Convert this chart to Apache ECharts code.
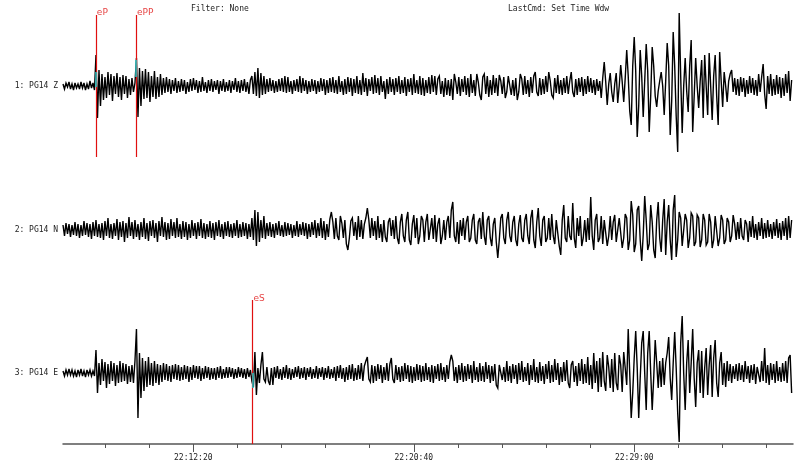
<!DOCTYPE html>
<html><head><meta charset="utf-8">
<script src="https://cdn.jsdelivr.net/npm/echarts@6/dist/echarts.min.js"></script>
<style>html,body{margin:0;padding:0;background:#fff}#c{width:800px;height:471px}</style>
</head><body><div id="c"></div>
<script>
// time in seconds after 22:00:00
const startSec = 444.5;
const sampleSec = 3.4;
const traceNames = ['1: PG14 Z', '2: PG14 N', '3: PG14 E'];
const headerTexts = ['Filter: None', 'LastCmd: Set Time Wdw'];
const minorTicks = [540, 640, 840, 940, 1040, 1140, 1340, 1440, 1540, 1640, 1840, 1940, 2040];
const majorTicks = [740, 1240, 1740];
const pickNames = ['eP', 'ePP', 'eS'];
const pickTimes = [519, 610, 874];
const pickTrace = [0, 0, 2];

const traceZ = [
2,-3,3,-1,4,-3,2,-4,3,-2,
2,-3,4,-2,3,-4,2,-3,5,-2,
3,-4,31,-32,16,-20,12,-14,9,-12,
14,-9,12,-15,10,-8,13,-11,9,-14,
11,-8,10,-12,7,-9,8,-6,3,28,
-31,18,-20,15,-13,17,-12,14,-16,10,
-11,15,-13,9,-11,12,-9,8,-7,9,
-6,7,-8,6,-5,8,-7,5,-6,7,
-5,6,-8,4,-6,7,-5,8,-4,6,
-7,5,-6,9,-5,4,-7,6,-5,7,
-6,5,-4,6,-8,5,-5,7,-6,4,
-5,6,-7,5,-4,8,-6,5,-7,6,
-5,7,-6,4,-8,6,10,-8,14,-10,
18,-12,13,-9,10,-8,7,-6,8,-5,
6,-7,5,-6,7,-5,8,-6,10,-7,
9,-6,5,-8,6,-5,7,-6,10,-7,
8,-5,6,-8,5,-6,7,-5,6,-8,
5,-6,8,-5,7,-9,6,-7,8,-6,
9,-7,6,-8,10,-6,5,-9,7,-8,
9,-6,8,-10,7,-7,10,-8,6,-9,
13,-6,8,-10,7,-5,9,-8,11,-7,
8,-9,10,-6,5,-13,7,-8,9,-6,
7,-9,8,-6,10,-8,6,-7,9,-10,
7,-6,8,-9,12,-7,6,-8,10,-9,
8,-10,6,-7,9,-8,11,-6,10,-9,
7,10,-8,5,-11,8,-9,6,-10,7,
-14,12,4,-8,9,-10,7,-6,10,-9,
8,-11,12,-7,6,-10,12,4,-9,-14,
9,12,-8,10,-11,6,-9,11,-7,8,
-10,11,5,-8,9,-12,-6,10,12,-9,
6,-10,8,-14,-6,12,7,-9,10,-8,
6,-11,9,-7,10,14,-6,-10,8,-9,
7,-8,10,-6,14,5,-9,-12,8,-7,
11,-8,6,-9,8,-7,10,-8,5,14,
-6,-11,7,-9,8,-6,9,-10,7,-8,
10,-6,8,-7,6,-9,7,-5,5,-12,
8,24,4,-19,2,13,-6,-16,2,13,
-17,0,21,4,-16,8,36,10,-25,-39,
20,49,15,-51,-20,36,10,-31,5,42,
15,-46,-10,39,20,-10,-21,-5,5,14,
0,-29,5,43,20,-49,-15,54,20,-30,
-66,73,10,-47,0,28,-5,-26,20,46,
-46,-10,28,0,-22,5,26,-32,31,0,
-29,33,0,-34,10,31,-10,-39,34,5,
-21,14,0,-16,5,12,16,-6,8,-9,
7,-10,9,-6,8,-11,6,-8,10,-7,
8,-9,6,-10,12,-6,9,22,-8,-23,
10,-8,12,-10,7,-9,11,-8,9,-12,
8,-10,12,-7,15,-15,6
];

const traceN = [
5,-6,7,-4,6,-7,5,-5,8,-6,
6,-8,5,-6,9,-5,7,-7,6,-9,
8,-6,10,-7,6,-8,7,-10,9,-6,
12,-8,6,-9,7,-6,11,-10,8,-7,
9,-12,7,-8,13,-6,8,-9,10,-7,
6,-10,8,-7,12,-9,7,-11,9,-6,
10,-8,7,-12,9,-6,13,-7,8,-10,
7,-9,11,-6,8,-8,12,-7,6,-9,
9,-7,8,-10,6,-8,10,-6,7,-9,
8,-6,11,-8,7,-9,6,-7,9,-8,
7,-10,8,-6,10,-7,6,-9,8,-6,
9,-7,6,-8,7,-6,10,-8,6,-7,
8,-6,7,-9,6,-7,12,-10,20,-16,
18,-12,10,-8,14,-9,7,-6,8,-7,
6,-8,7,-5,9,-6,5,-7,8,-6,
7,-5,6,-8,5,-6,9,-7,6,-5,
8,-6,7,-9,6,-7,8,-5,10,-8,
7,-6,12,-8,9,-10,6,-7,11,18,
8,-9,12,-6,-10,14,7,-8,10,-14,
-20,-8,9,12,-6,8,-10,14,-7,10,
-9,6,12,22,10,-8,12,-6,9,-10,
14,-8,6,-12,10,-7,-12,8,12,-6,
10,-9,14,-8,-14,8,16,-6,-12,10,
18,-10,-15,6,15,-8,12,-14,-6,14,
10,-12,8,16,-10,-8,12,-9,15,-12,
6,12,-14,-6,10,-10,8,14,-8,20,
28,-6,-12,8,-14,10,-6,12,-10,8,
14,-12,-8,10,16,-10,-14,8,12,-9,
18,-6,-15,10,14,-8,-16,6,12,-12,
-28,-10,12,16,-8,-14,10,18,-6,-12,
8,14,-10,-16,6,15,-8,-12,10,16,
-6,-14,12,20,-10,-18,8,22,-6,-16,
10,14,-12,-8,12,-10,16,-6,-14,10,
12,-16,-25,10,25,-8,-12,14,-6,-10,
27,-8,-18,12,-6,14,-16,-8,10,-12,
12,-10,33,-6,-20,10,16,-12,-8,14,
-14,10,12,-16,-6,14,-10,8,15,-12,
-14,12,10,-18,-8,16,12,-20,-10,29,
15,-22,-14,20,24,-10,-31,-5,34,10,
-20,-14,25,8,-20,-28,10,28,-8,-22,
10,31,-25,8,25,-10,-30,20,35,-27,
-10,18,12,-16,-14,16,10,-18,-8,17,
14,-16,-12,15,12,-17,-10,16,10,-15,
-12,16,8,-18,-10,14,12,-16,-8,15,
10,-14,-10,12,8,-12,-6,15,6,-10,
8,-9,12,-6,-10,10,6,-12,9,-7,
14,-8,6,-10,8,-6,12,-9,7,-8,
10,-7,6,-9,8,-6,11,-8,7,-10,
9,-6,12,-10,14,-8,10
];

const traceE = [
2,-3,3,-2,4,-2,3,-3,2,-4,
3,-2,4,-3,2,-4,3,-2,3,-3,
2,-3,23,-20,10,-12,14,-8,11,-15,
9,-11,12,-8,10,-13,8,-10,12,-9,
10,-8,9,-11,7,-9,8,-10,12,44,
-45,20,-25,15,-18,12,-14,16,-12,10,
-13,12,-10,9,-12,8,-9,10,-7,9,
-8,7,-9,8,-6,9,-7,8,-8,6,
-7,8,-6,7,-9,6,-7,8,-5,7,
-6,7,-8,5,-6,7,-5,6,-7,5,
-6,5,-7,6,-5,7,-6,4,-5,6,
-5,6,-4,5,-6,4,-5,6,-4,5,
-5,4,-6,5,-4,3,-8,-14,21,-22,
5,-10,8,21,-6,-9,6,-8,-12,5,
-12,6,-5,7,-6,4,-7,6,-5,8,
-6,5,-7,4,-5,6,-4,7,-6,5,
-5,6,-7,5,-4,6,-6,4,-5,7,
-6,5,-4,6,-7,5,-5,7,-6,4,
-5,6,-8,7,-5,8,-6,5,-9,6,
-7,8,-6,9,-8,5,-7,8,-6,10,
-8,7,12,16,-6,-9,8,-10,7,-8,
9,-6,8,-10,6,-7,10,-8,9,15,
-6,-10,8,-7,6,-9,7,-8,10,-6,
8,-9,7,-10,6,-8,9,-7,8,-9,
7,-8,10,-7,6,-9,8,-10,7,-6,
9,-8,10,-7,6,-9,8,-6,11,18,
12,-8,6,-10,8,-7,10,-9,7,-8,
9,-6,8,-10,12,-7,6,-9,10,-8,
7,-9,11,-6,8,-10,7,-8,9,-12,
-15,8,10,-7,6,-9,12,-8,7,-10,
9,-6,8,-11,10,-7,12,-9,6,-8,
10,-12,8,-7,14,-9,6,-10,11,-8,
7,-11,9,-6,12,-10,8,-9,14,-7,
10,-12,6,-9,11,-8,13,-10,-15,8,
12,-9,7,-13,10,-8,14,-11,9,-10,
16,-12,8,-16,20,-10,12,-19,15,-14,
21,-8,-18,18,6,-15,14,-19,20,-10,
-17,18,8,-19,21,5,-12,44,0,-45,
-20,15,42,5,-45,-5,30,42,0,-37,
20,42,0,-37,-5,33,10,-15,12,-14,
15,-12,10,20,36,-5,-27,10,41,5,
-40,-69,30,57,0,-37,10,33,-20,10,
44,-5,-34,10,23,-20,22,-25,5,25,
-22,8,28,-24,15,33,-10,-24,10,21,
-12,10,-14,12,-8,9,-10,7,-6,9,
-8,10,-7,8,-9,12,-6,7,-10,8,
-7,9,-11,6,8,-9,12,-8,25,-10,
8,-12,10,-7,9,-10,12,-8,6,-9,
10,-8,12,-10,15,18,-20
];

// layout
const GRID_H = 444;
const traceBase = [358, 214, 71];
const pickLineRange = [[287, 429], null, [0, 144]];
const pickLabelY = [431.5, null, 145];
const cyanRange = [[-1, 14], [9, 26], [-15, 0]];

function hms(v) {
  const s = Math.round(v) + 22 * 3600;
  const h = Math.floor(s / 3600), m = Math.floor((s % 3600) / 60), sec = s % 60;
  const p = n => (n < 10 ? '0' : '') + n;
  return p(h) + ':' + p(m) + ':' + p(sec);
}

const traces = [traceZ, traceN, traceE];
const mono = '"DejaVu Sans Mono", "Liberation Mono", monospace';

const series = traces.map((arr, k) => ({
  type: 'line',
  name: traceNames[k],
  showSymbol: false,
  symbol: 'none',
  animation: false,
  z: 3,
  lineStyle: { color: '#000', width: 1.4, join: 'miter', miterLimit: 4 },
  data: arr.map((v, i) => [startSec + i * sampleSec, traceBase[k] + v])
}));

series.push({
  type: 'scatter',
  name: 'picks',
  z: 2,
  symbolSize: 0,
  animation: false,
  silent: true,
  data: pickNames.map((n, j) => ({ name: n, value: [pickTimes[j], pickLabelY[pickTrace[j]]] })),
  label: {
    show: true, position: 'right', distance: 1, formatter: p => p.name,
    color: '#e01010', fontSize: 9, fontFamily: '"DejaVu Sans", sans-serif'
  },
  markLine: {
    silent: true, symbol: 'none', animation: false,
    label: { show: false },
    lineStyle: { color: '#e01010', width: 1.2, type: 'solid' },
    data: pickNames.map((n, j) => {
      const r = pickLineRange[pickTrace[j]];
      return [{ coord: [pickTimes[j], r[0]] }, { coord: [pickTimes[j], r[1]] }];
    })
  }
});

series.push({
  type: 'scatter',
  name: 'pickMarks',
  z: 4,
  symbolSize: 0,
  animation: false,
  silent: true,
  data: [],
  markLine: {
    silent: true, symbol: 'none', animation: false,
    label: { show: false },
    lineStyle: { color: '#20c8c8', width: 1.5, type: 'solid' },
    data: pickNames.map((n, j) => {
      const b = traceBase[pickTrace[j]];
      return [{ coord: [pickTimes[j], b + cyanRange[j][0]] }, { coord: [pickTimes[j], b + cyanRange[j][1]] }];
    })
  }
});

const labelMap = {};
traceBase.forEach((b, k) => { labelMap[b] = traceNames[k]; });

const chart = echarts.init(document.getElementById('c'), null, { renderer: 'canvas' });
chart.setOption({
  animation: false,
  backgroundColor: '#fff',
  title: [
    { text: headerTexts[0], left: 191, top: 5, padding: 0, textStyle: { fontSize: 8, fontWeight: 'normal', color: '#222', fontFamily: mono } },
    { text: headerTexts[1], left: 508, top: 5, padding: 0, textStyle: { fontSize: 8, fontWeight: 'normal', color: '#222', fontFamily: mono } }
  ],
  grid: { left: 63, right: 7, top: 0, bottom: 27, containLabel: false },
  xAxis: [
    {
      type: 'value', min: 444.5, max: 2100, position: 'bottom',
      axisLine: { show: true, lineStyle: { color: '#555', width: 1.5 } },
      axisTick: { show: true, customValues: minorTicks, length: 4, lineStyle: { color: '#555', width: 1 } },
      axisLabel: { show: true, customValues: majorTicks, formatter: v => hms(v), margin: 10, fontSize: 8, color: '#222', fontFamily: mono },
      splitLine: { show: false }
    },
    {
      type: 'value', min: 444.5, max: 2100, position: 'bottom', offset: 0,
      axisLine: { show: false },
      axisTick: { show: true, customValues: majorTicks, length: 8, lineStyle: { color: '#555', width: 1 } },
      axisLabel: { show: false },
      splitLine: { show: false }
    }
  ],
  yAxis: {
    type: 'value', min: 0, max: GRID_H,
    axisLine: { show: false }, axisTick: { show: false }, splitLine: { show: false },
    axisLabel: { show: true, customValues: traceBase, formatter: v => labelMap[v] || '', margin: 5, fontSize: 8, color: '#222', fontFamily: mono }
  },
  series: series
});
</script>
</body></html>
